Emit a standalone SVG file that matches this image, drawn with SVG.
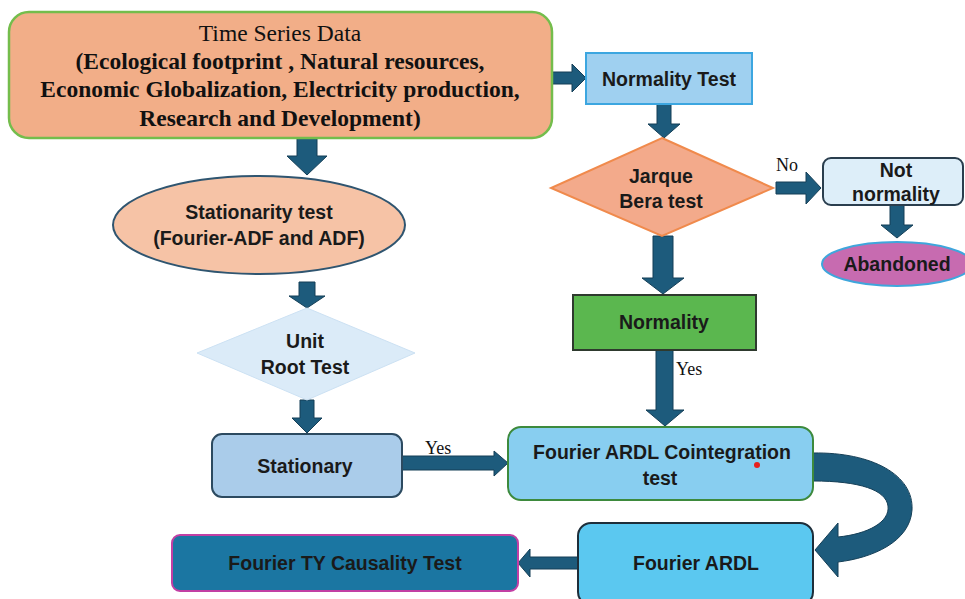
<svg xmlns="http://www.w3.org/2000/svg" width="965" height="599" viewBox="0 0 965 599">
<style>
.arr{fill:#1D5B7C;stroke:#153F57;stroke-width:1}
.t{font-family:"Liberation Sans",Arial,sans-serif;font-weight:bold;font-size:19.5px;fill:#1a1a1a;text-anchor:middle}
.s{font-family:"Liberation Serif","Times New Roman",serif;font-size:23.5px;fill:#111;text-anchor:middle}
.lbl{font-family:"Liberation Serif","Times New Roman",serif;font-size:18px;fill:#111}
</style>
<rect width="965" height="599" fill="#ffffff"/>
<g id="connectors">
  <path class="arr" d="M552,72 L572,72 L572,64 L586,78 L572,92 L572,84 L552,84 Z"/>
  <path class="arr" d="M657,104 L671,104 L671,124 L680,124 L664,138 L648,124 L657,124 Z"/>
  <path class="arr" d="M776,182 L806,182 L806,172 L821,188 L806,204 L806,194 L776,194 Z"/>
  <path class="arr" d="M890,205 L904,205 L904,225 L913,225 L897,238 L881,225 L890,225 Z"/>
  <path class="arr" d="M653,236 L673,236 L673,278 L684,278 L663,294 L642,278 L653,278 Z"/>
  <path class="arr" d="M656,350 L673,350 L673,410 L684,410 L665,426 L646,410 L656,410 Z"/>
  <path class="arr" d="M297,138 L317,138 L317,156 L327,156 L307,175 L287,156 L297,156 Z"/>
  <path class="arr" d="M299,282 L315,282 L315,296 L325,296 L307,308 L289,296 L299,296 Z"/>
  <path class="arr" d="M300,400 L314,400 L314,418 L322,418 L307,433 L292,418 L300,418 Z"/>
  <path class="arr" d="M402,456 L494,456 L494,451 L508,463 L494,476 L494,470 L402,470 Z"/>
  <path class="arr" d="M578,557 L530,557 L530,549 L518,563 L530,577 L530,569 L578,569 Z"/>
  <path class="arr" d="M813,453 C872,452 914,475 912,510 C910,542 872,558 838,562 L838,577 L815,550 L838,523 L838,537 C868,534 890,522 888,506 C886,490 860,481 813,481 Z"/>
  <text class="lbl" x="776" y="171">No</text>
  <text class="lbl" x="676" y="375">Yes</text>
  <text class="lbl" x="425" y="454">Yes</text>
</g>
<g id="time-series">
  <rect x="9" y="12" width="543" height="126" rx="20" fill="#F2AE88" stroke="#74BD4C" stroke-width="2.5"/>
  <text class="s" x="280" y="41">Time Series Data</text>
  <text class="s" x="280" y="69" font-weight="bold">(Ecological footprint , Natural resources,</text>
  <text class="s" x="280" y="97" font-weight="bold">Economic Globalization, Electricity production,</text>
  <text class="s" x="280" y="126" font-weight="bold">Research and Development)</text>
</g>
<g id="normality-test">
  <rect x="586" y="53" width="166" height="51" fill="#9FD0F0" stroke="#3CA6E0" stroke-width="2"/>
  <text class="t" x="669" y="86">Normality Test</text>
</g>
<g id="jarque-bera">
  <polygon points="662,138 773,188 662,236 551,188" fill="#F3AA8B" stroke="#F08A4C" stroke-width="2"/>
  <text class="t" x="661" y="183">Jarque</text>
  <text class="t" x="661" y="208">Bera  test</text>
</g>
<g id="not-normality">
  <rect x="823" y="158" width="140" height="47" rx="8" fill="#DDEEF9" stroke="#2A3E4E" stroke-width="2"/>
  <text class="t" x="896" y="177">Not</text>
  <text class="t" x="896" y="201">normality</text>
</g>
<g id="abandoned">
  <ellipse cx="897" cy="264" rx="75" ry="22" fill="#C76BB0" stroke="#3FA6DC" stroke-width="2"/>
  <text class="t" x="897" y="271" font-weight="normal" fill="#3a1a35">Abandoned</text>
</g>
<g id="normality">
  <rect x="573" y="295" width="183" height="55" fill="#5BB74F" stroke="#2E3A2E" stroke-width="2"/>
  <text class="t" x="664" y="329">Normality</text>
</g>
<g id="stationarity-test">
  <ellipse cx="259" cy="225" rx="146" ry="49" fill="#F6C3A6" stroke="#2F5570" stroke-width="2"/>
  <text class="t" x="259" y="219">Stationarity test</text>
  <text class="t" x="259" y="245">(Fourier-ADF and ADF)</text>
</g>
<g id="unit-root-test">
  <polygon points="307,308 415,353 307,400 197,353" fill="#DBEBF8" stroke="#CCE1F3" stroke-width="1"/>
  <text class="t" x="305" y="348">Unit</text>
  <text class="t" x="305" y="374">Root Test</text>
</g>
<g id="stationary">
  <rect x="212" y="434" width="190" height="63" rx="10" fill="#AACCEA" stroke="#2C4A60" stroke-width="2"/>
  <text class="t" x="305" y="473">Stationary</text>
</g>
<g id="fourier-ardl-cointegration">
  <rect x="508" y="427" width="305" height="73" rx="13" fill="#88CEF0" stroke="#3D8A3D" stroke-width="2"/>
  <text class="t" x="662" y="459">Fourier ARDL Cointegration</text>
  <text class="t" x="660" y="485">test</text>
  <circle cx="757" cy="465" r="3" fill="#E8201E"/>
</g>
<g id="fourier-ardl">
  <rect x="578" y="523" width="235" height="82" rx="13" fill="#5BC8F0" stroke="#1E2E3A" stroke-width="2"/>
  <text class="t" x="696" y="570">Fourier ARDL</text>
</g>
<g id="fourier-ty">
  <rect x="172" y="535" width="346" height="56" rx="8" fill="#1B76A2" stroke="#C23FA4" stroke-width="2"/>
  <text class="t" x="345" y="570" fill="#15202A">Fourier TY Causality Test</text>
</g>
</svg>
